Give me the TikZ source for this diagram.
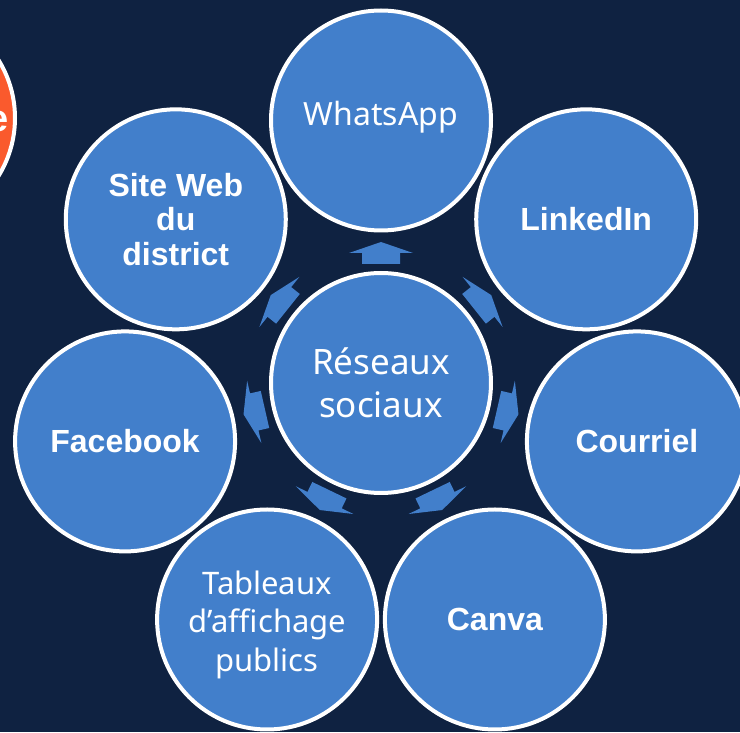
\documentclass[tikz,border=0pt]{standalone}
\usepackage{fontspec}
\setmainfont{Liberation Sans}
\newfontfamily\uifont{Noto Sans}
\usetikzlibrary{calc}
\definecolor{navy}{HTML}{0F2241}
\definecolor{bubbleblue}{HTML}{427FCB}
\definecolor{accentorange}{HTML}{FA5A2D}
\begin{document}
\begin{tikzpicture}[x=1pt,y=1pt,
  bubble/.style={circle, draw=white, line width=4pt, fill=bubbleblue,
    minimum size=220pt, inner sep=0pt, text=white, align=center},
  boldlabel/.style={font=\fontsize{32}{34.5}\selectfont\bfseries},
  bubbletext/.style={text=white, align=center, inner sep=0pt},
  hublabel/.style={font=\uifont\fontsize{35}{43}\selectfont},
  applabel/.style={font=\uifont\fontsize{32}{38}\selectfont},
  boardlabel/.style={font=\uifont\fontsize{31}{38.5}\selectfont},
  spoke/.style={fill=bubbleblue}]
\fill[navy] (0,0) rectangle (740,732);
\useasboundingbox (0,0) rectangle (740,732);

% bubble of the neighbouring group, cut by the left edge
\begin{scope}
  \clip (0,0) rectangle (740,732);
  \node[bubble, fill=accentorange] (side) at (-95,614) {};
  \node[font=\fontsize{38}{40}\selectfont\bfseries, text=white,
    anchor=base east, inner sep=0pt] (sidetext) at (9,600) {e};
\end{scope}

% hub and the seven channels around it
\node[bubble] (hub) at (381,349) {};
\node[bubbletext, hublabel] (hubtext) at (hub.center) {Réseaux\\sociaux};
\path (hub.center) ++(90:262.5)      node[bubble] (wa) {};
\node[bubbletext, applabel, anchor=base] (watext) at ([yshift=-5pt]wa.center) {WhatsApp};
\path (hub.center) ++(38.571:262.5)  node[bubble, boldlabel] (li)     {LinkedIn};
\path (hub.center) ++(-12.857:262.5) node[bubble, boldlabel] (mail)   {Courriel};
\path (hub.center) ++(-64.286:262.5) node[bubble, boldlabel] (canva)  {Canva};
\path (hub.center) ++(-115.714:262.5) node[bubble] (boards) {};
\node[bubbletext, boardlabel] (boardstext) at ([yshift=-5pt]boards.center) {Tableaux\\d’affichage\\publics};
\path (hub.center) ++(-167.143:262.5) node[bubble, boldlabel] (fb)    {Facebook};
\path (hub.center) ++(141.429:262.5) node[bubble, boldlabel] (site)   {Site Web\\du\\district};

% block arrows from the hub towards each channel
\foreach \t in {wa,li,mail,canva,boards,fb,site}{
  \fill[spoke]
    ($(hub.center)!119pt!(\t.center)!19pt!90:(\t.center)$) --
    ($(hub.center)!130pt!(\t.center)!19pt!90:(\t.center)$) --
    ($(hub.center)!130pt!(\t.center)!32pt!90:(\t.center)$) --
    ($(hub.center)!141pt!(\t.center)$) --
    ($(hub.center)!130pt!(\t.center)!32pt!-90:(\t.center)$) --
    ($(hub.center)!130pt!(\t.center)!19pt!-90:(\t.center)$) --
    ($(hub.center)!119pt!(\t.center)!19pt!-90:(\t.center)$) -- cycle;
}
\end{tikzpicture}
\end{document}
